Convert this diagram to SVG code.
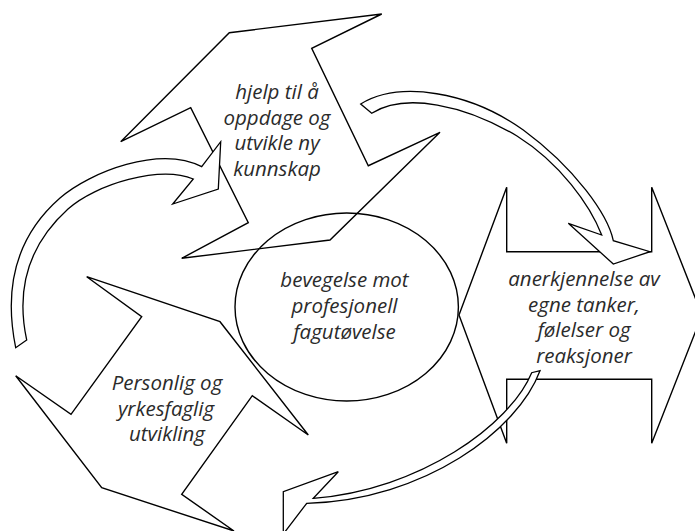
<svg xmlns="http://www.w3.org/2000/svg" width="695" height="531" viewBox="0 0 695 531">
<style>
.shape{fill:none;stroke:#000;stroke-width:1.4;stroke-linejoin:miter}
.curve{fill:#fff;stroke:#000;stroke-width:1.3;stroke-linejoin:miter}
.lbl{font-family:"Open Sans","DejaVu Sans",sans-serif;font-style:italic;font-size:20.5px;fill:#2b2b2b;text-anchor:middle}
</style>
<rect width="695" height="531" fill="#fff"/>
<g id="node-top">
<polygon class="shape" points="381.7,14 311.7,48.3 368.3,165.7 440,132.3 330,240 181.7,258.3 248.3,222.7 190.7,107.7 120.7,141.7 229.3,32.7"/>
<text class="lbl" x="277" y="99">hjelp til å</text>
<text class="lbl" x="277" y="124.7">oppdage og</text>
<text class="lbl" x="277" y="150.3">utvikle ny</text>
<text class="lbl" x="277" y="176">kunnskap</text>
</g>
<g id="node-right">
<polygon class="shape" points="459,315 506.7,187.3 506.7,251.7 651.7,251.7 651.7,187.3 702,315 651.7,443.3 651.7,379.3 506.7,379.3 506.7,443.3"/>
<text class="lbl" x="584" y="286">anerkjennelse av</text>
<text class="lbl" x="584" y="311.7">egne tanker,</text>
<text class="lbl" x="584" y="337.4">følelser og</text>
<text class="lbl" x="584" y="363.3">reaksjoner</text>
</g>
<g id="node-left">
<polygon class="shape" points="86.7,276.7 220,321.7 308.3,435 252.3,395.7 181.7,494.3 234,531 101.7,487.7 15.7,375.7 71,414.3 141.7,316.7"/>
<text class="lbl" x="167" y="390">Personlig og</text>
<text class="lbl" x="166" y="415.5">yrkesfaglig</text>
<text class="lbl" x="167" y="441">utvikling</text>
</g>
<g id="node-center">
<ellipse class="shape" cx="346.7" cy="307" rx="111.7" ry="94"/>
<text class="lbl" x="344.5" y="287.3">bevegelse mot</text>
<text class="lbl" x="344.5" y="313.3">profesjonell</text>
<text class="lbl" x="344.5" y="339.3">fagutøvelse</text>
</g>
<g id="connectors">
<path class="curve" d="M15.7,347.7 C5,295 12,240 60,198 C90,172 160,145 201.7,166.7 L220.7,141.7 L218.3,189 L172.7,204 L193.3,179 C160,165 96,184 68,209 C25,248 17,295 26.7,340 Z"/>
<path class="curve" d="M360.7,104 C400,80 470,92 523.3,130 C575,168 608,215 613.3,240.7 L650,251.7 L613.3,264 L568.3,223.3 L601.7,235 C590,205 560,163 517,136 C465,105 405,92 371.7,113.3 Z"/>
<path class="curve" d="M531.7,372.7 C510,425 420,490 313.3,498.3 L338.3,471.7 L283.3,491.7 L283.3,534 L306.7,503.3 C425,500 518,430 540,370.7 Z"/>
</g>
</svg>
